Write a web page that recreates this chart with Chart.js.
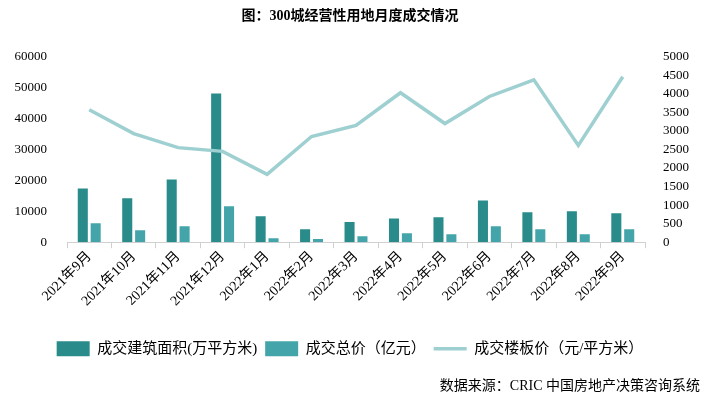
<!DOCTYPE html>
<html>
<head>
<meta charset="utf-8">
<script src="https://cdn.jsdelivr.net/npm/chart.js@4/dist/chart.umd.min.js"></script>
<style>
  html, body { margin: 0; padding: 0; background: #fff; }
  #wrap { width: 708px; height: 403px; position: relative; }
</style>
</head>
<body>
<div id="wrap"><canvas id="myChart"></canvas></div>
<script>
var months = ['2021年9月', '2021年10月', '2021年11月', '2021年12月', '2022年1月', '2022年2月', '2022年3月',
  '2022年4月', '2022年5月', '2022年6月', '2022年7月', '2022年8月', '2022年9月'];
var area = [17400, 14200, 20300, 48100, 8400, 4200, 6500, 7700, 8100, 13500, 9700, 10000, 9400];
var total = [6100, 3900, 5200, 11600, 1300, 1000, 1900, 2900, 2600, 5200, 4200, 2600, 4200];
var price = [3570, 2930, 2550, 2450, 1830, 2850, 3150, 4030, 3200, 3930, 4380, 2610, 4460];
var leftTicks = [0, 10000, 20000, 30000, 40000, 50000, 60000];

var serif = "'Liberation Serif', 'Noto Sans CJK SC', serif";

var ctx = 'myChart';
var myChart = new Chart(ctx, {
  type: 'bar',
  data: {
    labels: months,
    datasets: [
      {
        label: '成交建筑面积(万平方米)',
        data: area,
        backgroundColor: '#2a8b8b',
        pointStyle: 'rect',
        yAxisID: 'y',
        order: 2,
      },
      {
        label: '成交总价（亿元）',
        data: total,
        backgroundColor: '#43a5aa',
        pointStyle: 'rect',
        yAxisID: 'y',
        order: 2,
      },
      {
        type: 'line',
        label: '成交楼板价（元/平方米）',
        data: price,
        borderColor: '#9ecfd1',
        backgroundColor: '#9ecfd1',
        borderWidth: 3.5,
        pointRadius: 0,
        pointStyle: 'line',
        tension: 0,
        yAxisID: 'y1',
        order: 1,
      },
    ],
  },
  options: {
    responsive: true,
    maintainAspectRatio: false,
    animation: false,
    categoryPercentage: 0.58,
    barPercentage: 0.78,
    layout: { padding: { top: 6, left: 0, right: 8, bottom: 8 } },
    plugins: {
      title: {
        display: true,
        text: '图：300城经营性用地月度成交情况',
        color: '#000',
        font: { family: serif, size: 14, weight: 'bold' },
        padding: { top: 2, bottom: 32 },
      },
      subtitle: {
        display: true,
        position: 'bottom',
        align: 'end',
        text: '数据来源：CRIC 中国房地产决策咨询系统',
        color: '#000',
        font: { family: serif, size: 14 },
        padding: { top: 12, bottom: 0 },
      },
      legend: {
        position: 'bottom',
        labels: {
          sort: function (a, b) { return a.datasetIndex - b.datasetIndex; },
          color: '#000',
          font: { family: serif, size: 15 },
          usePointStyle: true,
          pointStyleWidth: 33,
          boxHeight: 15,
          padding: 8,
        },
      },
      tooltip: { enabled: false },
    },
    scales: {
      x: {
        grid: {
          display: true,
          drawOnChartArea: false,
          offset: true,
          color: '#d0d0d0',
          tickLength: 6,
        },
        border: { color: '#d0d0d0' },
        ticks: {
          color: '#000',
          font: { family: serif, size: 14 },
          minRotation: 45,
          maxRotation: 45,
          padding: 0,
        },
        afterFit: function (axis) { axis.height = 91; },
      },
      y: {
        position: 'left',
        min: 0,
        max: 60000,
        afterBuildTicks: function (axis) {
          axis.ticks = leftTicks.map(function (v) { return { value: v }; });
        },
        grid: { display: false },
        border: { display: false },
        ticks: {
          color: '#000',
          font: { family: serif, size: 13 },
          padding: 12,
          callback: function (v) { return String(v); },
        },
        afterFit: function (axis) { axis.width = 67; },
      },
      y1: {
        position: 'right',
        min: 0,
        max: 5000,
        grid: { display: false },
        border: { display: false },
        ticks: {
          color: '#000',
          stepSize: 500,
          autoSkip: false,
          font: { family: serif, size: 13 },
          padding: 10,
          callback: function (v) { return String(v); },
        },
        afterFit: function (axis) { axis.width = 55; },
      },
    },
  },
});
</script>
</body>
</html>
